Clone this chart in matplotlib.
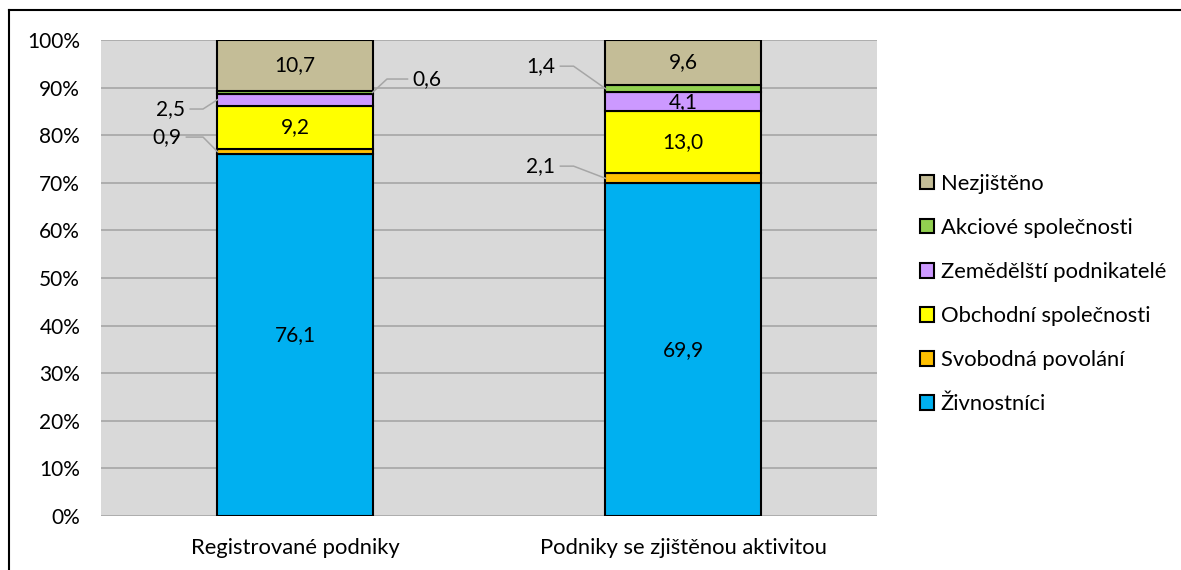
import numpy as np
import matplotlib
matplotlib.use('Agg')
import matplotlib.pyplot as plt
from matplotlib.lines import Line2D

plt.rcParams['font.family'] = ['Lato', 'DejaVu Sans']

categories = ['Registrované podniky', 'Podniky se zjištěnou aktivitou']
series = ['Živnostníci', 'Svobodná povolání', 'Obchodní společnosti',
          'Zemědělští podnikatelé', 'Akciové společnosti', 'Nezjištěno']
zivnostnici = [76.1, 69.9]
svobodna = [0.9, 2.1]
obchodni = [9.2, 13.0]
zemedelsti = [2.5, 4.1]
akciove = [0.6, 1.4]
nezjisteno = [10.7, 9.6]
values = [zivnostnici, svobodna, obchodni, zemedelsti, akciove, nezjisteno]
colors = ['#00B0F0', '#FFC000', '#FFFF00', '#CC99FF', '#92D050', '#C4BD97']

# labels drawn outside the bar with a leader line:
# (series idx, category idx) -> (side, knee dx, text dx from bar edge, text y)
outside = {
    (1, 0): (-1, 0.037, 0.13, 79.6),
    (3, 0): (-1, 0.037, 0.12, 85.5),
    (4, 0): (1, 0.037, 0.14, 91.8),
    (1, 1): (-1, 0.082, 0.166, 73.5),
    (4, 1): (-1, 0.082, 0.166, 94.5),
}
FS = 15
FS_TXT = 15.8

def fmt(v):
    return f'{v:.1f}'.replace('.', ',')

fig = plt.figure(figsize=(11.81, 5.70), dpi=100)
ax = fig.add_axes([101/1181, 1-516/570, 776/1181, 476/570])
ax.set_facecolor('#D9D9D9')

x = np.arange(len(categories))
width = 0.4
bottom = np.zeros(len(categories))
handles = []
for i, (name, vals) in enumerate(zip(series, values)):
    vals = np.array(vals)
    b = ax.bar(x, vals, width, bottom=bottom, color=colors[i],
               edgecolor='black', linewidth=1.5, label=name, zorder=3)
    handles.append(b)
    for j in range(len(categories)):
        mid = bottom[j] + vals[j] / 2
        if (i, j) in outside:
            side, kdx, dx, ty = outside[(i, j)]
            edge = x[j] + side * width / 2
            knee = edge + side * kdx
            end = edge + side * (dx - 0.05)
            ax.plot([edge, knee, end], [mid, ty, ty], color='#A6A6A6',
                    lw=1.1, zorder=4, clip_on=False)
            ax.text(edge + side * dx, ty, fmt(vals[j]), ha='center',
                    va='center', fontsize=FS, zorder=5)
        else:
            ax.text(x[j], mid, fmt(vals[j]), ha='center', va='center',
                    fontsize=FS, zorder=5)
    bottom += vals

ax.set_xlim(-0.5, 1.5)
ax.set_ylim(0, 100)
ax.set_yticks(np.arange(0, 101, 10))
ax.set_yticklabels([f'{t}%' for t in range(0, 101, 10)])
ax.set_xticks(x)
ax.set_xticklabels(categories)
ax.tick_params(axis='y', length=0, pad=15, labelsize=FS)
ax.tick_params(axis='x', length=0, pad=16, labelsize=FS_TXT)
ax.grid(axis='y', color='#A6A6A6', lw=1.2, zorder=1)
ax.set_axisbelow(True)
for s in ax.spines.values():
    s.set_visible(False)

leg = fig.legend(handles[::-1], series[::-1], loc='center left',
                 bbox_to_anchor=(900/1181, 1-294/570), frameon=False,
                 fontsize=FS_TXT, handlelength=0.65, handleheight=0.65,
                 handletextpad=0.3, labelspacing=1.1)

# outer chart frame (only left and top edges visible)
fig.add_artist(Line2D([9/1181, 9/1181], [0, 1-10/570], color='black', lw=1.5))
fig.add_artist(Line2D([9/1181, 1], [1-10/570, 1-10/570], color='black', lw=1.5))

fig.savefig('out.png', dpi=100)
